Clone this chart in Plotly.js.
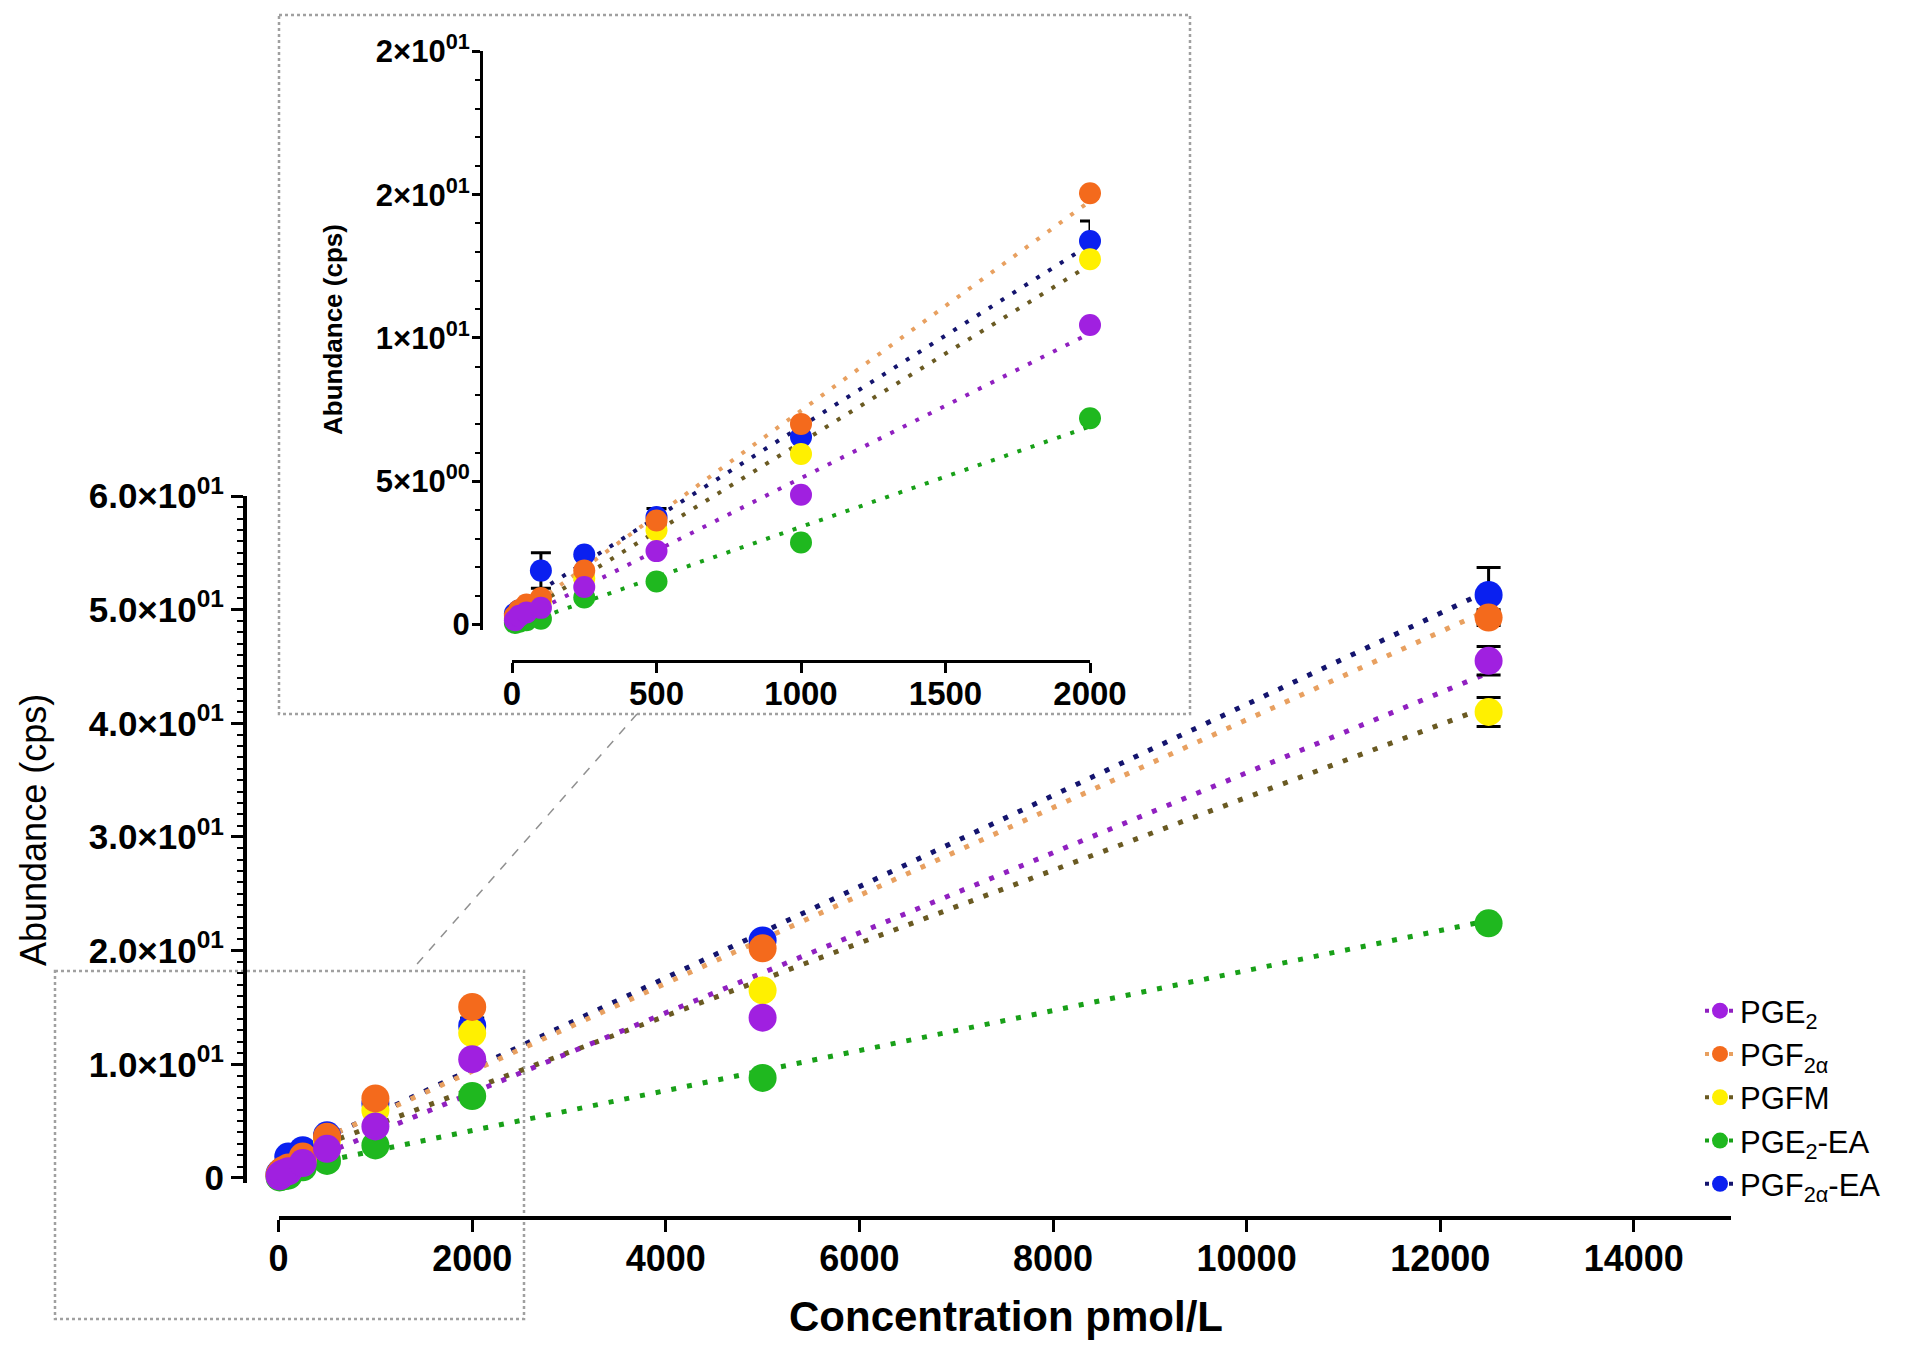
<!DOCTYPE html>
<html>
<head>
<meta charset="utf-8">
<script src="https://cdn.plot.ly/plotly-3.0.1.min.js"></script>
<style>html,body{margin:0;padding:0;background:#fff;}#chart{width:1920px;height:1365px;}</style>
</head>
<body>
<div id="chart"></div>
<script>
// ---- data ----
const conc     = [10, 25, 50, 100, 250, 500, 1000, 2000, 5000, 12500];
const pge2     = [0.15, 0.30, 0.42, 0.58, 1.31, 2.56, 4.53, 10.45, 14.1, 45.5];
const pgf2a    = [0.30, 0.50, 0.70, 0.92, 1.88, 3.63, 7.00, 15.05, 20.2, 49.3];
const pgfm     = [0.22, 0.40, 0.60, 0.80, 1.60, 3.29, 5.95, 12.75, 16.5, 41.0];
const pge2ea   = [0.05, 0.10, 0.15, 0.20, 0.94, 1.50, 2.86, 7.20, 8.8, 22.4];
const pgf2aea  = [0.38, 0.50, 0.62, 1.88, 2.44, 3.75, 6.54, 13.38, 20.9, 51.3];
const pge2Err    = [null, null, null, null, null, null, null, null, null, 1.25];
const pgf2aErr   = [null, null, null, null, null, null, null, null, null, 0.7];
const pgfmErr    = [null, null, null, null, null, null, null, null, null, 1.27];
const pge2eaErr  = [null, null, null, null, null, null, null, null, null, null];
const pgf2aeaErr = [null, null, null, 0.62, null, 0.3, null, 0.7, null, 2.4];
const seriesNames = ['PGE<sub>2</sub>', 'PGF<sub>2α</sub>', 'PGFM', 'PGE<sub>2</sub>-EA', 'PGF<sub>2α</sub>-EA'];
const mainXTickVals = [0, 2000, 4000, 6000, 8000, 10000, 12000, 14000];
const mainXTickText = ['0', '2000', '4000', '6000', '8000', '10000', '12000', '14000'];
const mainYTickVals = [0, 10, 20, 30, 40, 50, 60];
const mainYTickText = ['0', '1.0×10<sup>01</sup>', '2.0×10<sup>01</sup>', '3.0×10<sup>01</sup>', '4.0×10<sup>01</sup>', '5.0×10<sup>01</sup>', '6.0×10<sup>01</sup>'];
const insetXTickVals = [0, 500, 1000, 1500, 2000];
const insetXTickText = ['0', '500', '1000', '1500', '2000'];
const insetYTickVals = [0, 5, 10, 15, 20];
const insetYTickText = ['0', '5×10<sup>00</sup>', '1×10<sup>01</sup>', '2×10<sup>01</sup>', '2×10<sup>01</sup>'];
const insetMaxConc = 2000;
const xTitle = 'Concentration pmol/L';
const yTitle = 'Abundance (cps)';

// ---- styles ----
const values = [pge2, pgf2a, pgfm, pge2ea, pgf2aea];
const errs = [pge2Err, pgf2aErr, pgfmErr, pge2eaErr, pgf2aeaErr];
const markerColors = ['#a020e0', '#f46a1c', '#fff000', '#1fb81f', '#0a20f0'];
const lineColors = ['#9020c0', '#e8a060', '#6a5a22', '#18a018', '#14146e'];
const drawOrder = [4, 3, 2, 1, 0];
const FONT = 'Liberation Sans, Arial, sans-serif';
const W = 1920, H = 1365;
function px(x) { return x / W; }
function py(y) { return 1 - y / H; }
const bold = t => '<b>' + t + '</b>';

function fit(xs, ys) {
  const n = xs.length;
  let sx = 0, sy = 0, sxx = 0, sxy = 0;
  for (let i = 0; i < n; i++) { sx += xs[i]; sy += ys[i]; sxx += xs[i] * xs[i]; sxy += xs[i] * ys[i]; }
  const b = (n * sxy - sx * sy) / (n * sxx - sx * sx);
  const a = (sy - b * sx) / n;
  return {a, b};
}

const traces = [];
const insetIdx = conc.map((c, i) => c <= insetMaxConc ? i : -1).filter(i => i >= 0);

// fitted regression lines
[['x', 'y', conc.map((c, i) => i), 5, '5px,11px'], ['x2', 'y2', insetIdx, 4, '4px,10px']].forEach(([xa, ya, idx, lw, dash]) => {
  drawOrder.forEach(s => {
    const xs = idx.map(i => conc[i]);
    const ys = idx.map(i => values[s][i]);
    const f = fit(xs, ys);
    const x0 = Math.min(...xs), x1 = Math.max(...xs);
    traces.push({
      type: 'scatter', mode: 'lines', xaxis: xa, yaxis: ya, showlegend: false, hoverinfo: 'skip',
      x: [x0, x1], y: [f.a + f.b * x0, f.a + f.b * x1],
      line: {color: lineColors[s], width: lw, dash: dash}, cliponaxis: false
    });
  });
});

// data markers with error bars
[['x', 'y', conc.map((c, i) => i), 28, 12], ['x2', 'y2', insetIdx, 22, 10]].forEach(([xa, ya, idx, ms, cap]) => {
  drawOrder.forEach(s => {
    traces.push({
      type: 'scatter', mode: 'markers', xaxis: xa, yaxis: ya, showlegend: false,
      name: seriesNames[s],
      x: idx.map(i => conc[i]), y: idx.map(i => values[s][i]),
      error_y: {type: 'data', array: idx.map(i => errs[s][i]), visible: true, color: '#000', thickness: 3, width: cap},
      marker: {color: markerColors[s], size: ms, line: {width: 0}}, cliponaxis: false
    });
  });
});

// legend entries
seriesNames.forEach((nm, s) => {
  traces.push({
    type: 'scatter', mode: 'lines+markers', name: nm, x: [null], y: [null], xaxis: 'x', yaxis: 'y',
    line: {color: lineColors[s], width: 4, dash: 'dot'},
    marker: {color: markerColors[s], size: 16}
  });
});

const axisCommon = {showgrid: false, zeroline: false, showline: true, linecolor: '#000', ticks: 'outside', tickcolor: '#000', fixedrange: true};

const layout = {
  width: W, height: H,
  margin: {l: 0, r: 0, t: 0, b: 0},
  paper_bgcolor: '#fff', plot_bgcolor: 'rgba(0,0,0,0)',
  font: {family: FONT, size: 30, color: '#000'},
  showlegend: true,
  legend: {x: px(1700), y: py(984), xanchor: 'left', yanchor: 'top', bgcolor: 'rgba(0,0,0,0)',
           font: {family: FONT, size: 31, color: '#000'}, tracegroupgap: 0},
  xaxis: Object.assign({}, axisCommon, {
    domain: [px(278.6), px(1730.6)], range: [0, 15000], anchor: 'free', position: py(1218),
    linewidth: 4, ticklen: 12, tickwidth: 3,
    tickmode: 'array', tickvals: mainXTickVals, ticktext: mainXTickText.map(bold), ticklabelstandoff: -4,
    tickfont: {family: FONT, size: 36, color: '#000'}
  }),
  yaxis: Object.assign({}, axisCommon, {
    domain: [py(1182.5), py(496)], range: [-0.4, 60], anchor: 'free', position: px(245),
    linewidth: 4, ticklen: 12, tickwidth: 3,
    tickmode: 'array', tickvals: mainYTickVals, ticktext: mainYTickText.map(bold),
    tickfont: {family: FONT, size: 35, color: '#000'},
    minor: {dtick: 1, ticklen: 6, tickwidth: 2, tickcolor: '#000', ticks: 'outside'}
  }),
  xaxis2: Object.assign({}, axisCommon, {
    domain: [px(512), px(1090)], range: [0, 2000], anchor: 'free', position: py(661),
    linewidth: 3, ticklen: 10, tickwidth: 3,
    tickmode: 'array', tickvals: insetXTickVals, ticktext: insetXTickText.map(bold), ticklabelstandoff: -8,
    tickfont: {family: FONT, size: 33, color: '#000'}
  }),
  yaxis2: Object.assign({}, axisCommon, {
    domain: [py(630.2), py(51.4)], range: [-0.2, 20], anchor: 'free', position: px(481),
    linewidth: 3, ticklen: 8, tickwidth: 3, ticklabelstandoff: -4,
    tickmode: 'array', tickvals: insetYTickVals, ticktext: insetYTickText.map(bold),
    tickfont: {family: FONT, size: 31, color: '#000'},
    minor: {dtick: 1, ticklen: 5, tickwidth: 2, tickcolor: '#000', ticks: 'outside'}
  }),
  annotations: [
    {text: bold(xTitle), xref: 'paper', yref: 'paper', x: px(1006), y: py(1316), xanchor: 'center', yanchor: 'middle',
     showarrow: false, font: {family: FONT, size: 42, color: '#000'}},
    {text: yTitle, xref: 'paper', yref: 'paper', x: px(34), y: py(830), xanchor: 'center', yanchor: 'middle',
     textangle: -90, showarrow: false, font: {family: FONT, size: 36, color: '#000'}},
    {text: bold(yTitle), xref: 'paper', yref: 'paper', x: px(333), y: py(330), xanchor: 'center', yanchor: 'middle',
     textangle: -90, showarrow: false, font: {family: FONT, size: 26, color: '#000'}}
  ],
  shapes: [
    {type: 'rect', xref: 'paper', yref: 'paper', x0: px(279), x1: px(1190), y0: py(15), y1: py(714),
     line: {color: '#a0a0a0', width: 2.5, dash: 'dot'}, layer: 'below'},
    {type: 'rect', xref: 'paper', yref: 'paper', x0: px(55), x1: px(524), y0: py(971), y1: py(1319),
     line: {color: '#a0a0a0', width: 2.5, dash: 'dot'}, layer: 'below'},
    {type: 'line', xref: 'paper', yref: 'paper', x0: px(637), y0: py(714), x1: px(411), y1: py(971),
     line: {color: '#909090', width: 1.5, dash: 'dash'}, layer: 'below'}
  ]
};

Plotly.newPlot('chart', traces, layout, {displayModeBar: false});
</script>
</body>
</html>
